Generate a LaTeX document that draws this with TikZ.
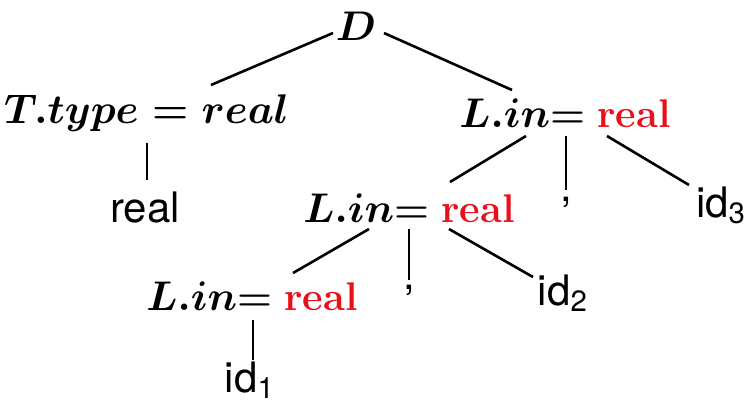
\documentclass[tikz,border=0pt]{standalone}
\usepackage{fontspec}
\usepackage{amsmath}
\usetikzlibrary{calc}
\newfontfamily\leaffont{TeX Gyre Heros}
\definecolor{attrred}{RGB}{232,16,26}

\begin{document}
\begin{tikzpicture}[
    x=0.5pt, y=-0.5pt,
    attr/.style={anchor=base, inner sep=0pt, font=\fontsize{20}{24}\selectfont\boldmath},
    leaf/.style={anchor=base, inner sep=0pt, font=\fontsize{21}{25}\selectfont\leaffont},
    edge/.style={line width=1.3pt, black}
]
\useasboundingbox (0,0) rectangle (748,409);

% attribute nodes
\node[attr] (D) at (356,40) {$D$};
\node[attr] (T) at (146.5,123) {$T.type = real$};
\node[attr] (lina) at (565,127) {$L.in$\textbf{=} \textcolor{attrred}{\textbf{real}}};
\node[attr] (linb) at (409,222) {$L.in$\textbf{=} \textcolor{attrred}{\textbf{real}}};
\node[attr] (linc) at (252,310) {$L.in$\textbf{=} \textcolor{attrred}{\textbf{real}}};

% leaves
\node[leaf] (realleaf) at (145,222) {real};
\node[leaf] (commaa) at (566,201) {,};
\node[leaf] (commab) at (409,289) {,};
\node[leaf] (ida) at (250,392) {id\textsubscript{1}};
\node[leaf] (idb) at (563,305) {id\textsubscript{2}};
\node[leaf] (idc) at (721,217) {id\textsubscript{3}};

% edges
\draw[edge] ($(D.base)+(-23,-7)$) -- ($(T.base)+(64.5,-38)$);
\draw[edge] ($(D.base)+(28,-7)$) -- ($(lina.base)+(-53,-37)$);
\draw[edge] ($(T.base)+(0.5,20)$) -- ($(realleaf.base)+(2,-42)$);
\draw[edge] ($(lina.base)+(-39,9)$) -- ($(linb.base)+(41,-40)$);
\draw[edge] ($(lina.base)+(1,9)$) -- ($(commaa.base)+(0,-11)$);
\draw[edge] ($(lina.base)+(42,9)$) -- ($(idc.base)+(-32,-32)$);
\draw[edge] ($(linb.base)+(-40,7)$) -- ($(linc.base)+(41,-37)$);
\draw[edge] ($(linb.base)+(0,7)$) -- ($(commab.base)+(0,-9)$);
\draw[edge] ($(linb.base)+(40,7)$) -- ($(idb.base)+(-30,-28)$);
\draw[edge] ($(linc.base)+(1,10)$) -- ($(ida.base)+(3,-32)$);
\end{tikzpicture}
\end{document}
